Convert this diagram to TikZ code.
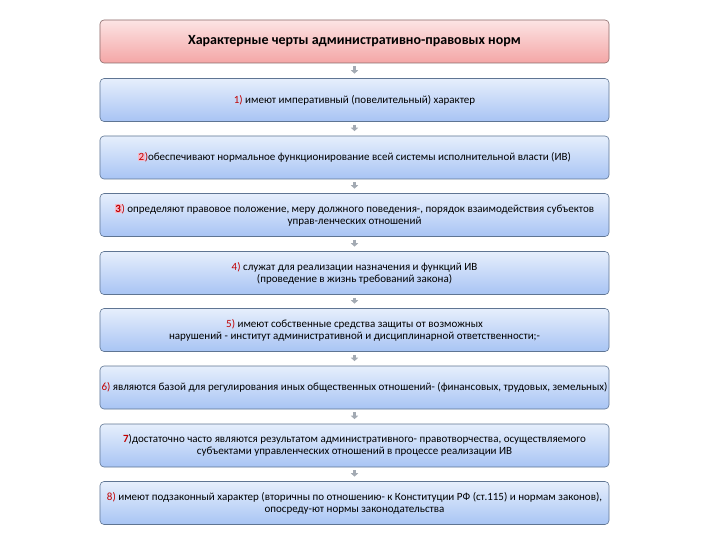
\documentclass[tikz,border=0pt]{standalone}
\usepackage{fontspec}
\setmainfont{Carlito}
\usetikzlibrary{arrows.meta}
\definecolor{numred}{HTML}{C00000}
\definecolor{hlpink}{HTML}{F4B8C8}
\definecolor{bluetop}{HTML}{E6EFFC}
\definecolor{bluebot}{HTML}{A8C4F4}
\definecolor{blueedge}{HTML}{5F7593}
\definecolor{pinktop}{HTML}{FCE4E4}
\definecolor{pinkbot}{HTML}{F4A6A6}
\definecolor{pinkedge}{HTML}{8A6A6A}
\definecolor{arrgray}{HTML}{A3AAB3}
\tikzset{
  stepbox/.style={draw=blueedge, line width=0.6bp, rounded corners=4bp,
    top color=bluetop, bottom color=bluebot, minimum width=509bp, minimum height=43bp,
    align=center, font=\fontsize{11bp}{12bp}\selectfont, inner sep=0pt},
  titlebox/.style={stepbox, draw=pinkedge, top color=pinktop, bottom color=pinkbot,
    font=\bfseries\fontsize{14bp}{15bp}\selectfont},
  conn/.style={arrgray, line width=3bp, -{Triangle[width=7bp,length=3.5bp]},
    shorten <=3bp, shorten >=4.5bp}
}
\newcommand{\num}[1]{\textcolor{numred}{#1}}
\newcommand{\hnum}[1]{{\setlength{\fboxsep}{0.5pt}\colorbox{hlpink}{\textcolor{numred}{#1}}}}
\begin{document}
\begin{tikzpicture}[x=1bp,y=-1bp]
\useasboundingbox (0,0) rectangle (720,540);
\fill[white] (0,0) rectangle (720,540);
\node[titlebox] (t) at (354.5,41.5) {Характерные черты административно-правовых норм};
\node[stepbox] (b1) at (354.5,100) {\num{1)} имеют императивный (повелительный) характер};
\node[stepbox] (b2) at (354.5,157.5) {\hnum{2}\num{)}обеспечивают нормальное функционирование всей системы исполнительной власти (ИВ)};
\node[stepbox] (b3) at (354.5,215) {\hnum{\textbf{3}}\num{)} определяют правовое положение, меру должного поведения-, порядок взаимодействия субъектов\\управ-ленческих отношений};
\node[stepbox] (b4) at (354.5,273) {\num{4)} служат для реализации назначения и функций ИВ\\(проведение в жизнь требований закона)};
\node[stepbox] (b5) at (354.5,330) {\num{5)} имеют собственные средства защиты от возможных\\нарушений - институт административной и дисциплинарной ответственности;-};
\node[stepbox] (b6) at (354.5,387.5) {\num{6)} являются базой для регулирования иных общественных отношений- (финансовых, трудовых, земельных)};
\node[stepbox] (b7) at (354.5,445.5) {\num{\textbf{7}})достаточно часто являются результатом административного- правотворчества, осуществляемого\\субъектами управленческих отношений в процессе реализации ИВ};
\node[stepbox] (b8) at (354.5,503) {\num{8)} имеют подзаконный характер (вторичны по отношению- к Конституции РФ (ст.115) и нормам законов),\\опосреду-ют нормы законодательства};
\foreach \a/\b in {t/b1,b1/b2,b2/b3,b3/b4,b4/b5,b5/b6,b6/b7,b7/b8}
  \draw[conn] (\a.south) -- (\b.north);
\end{tikzpicture}
\end{document}
